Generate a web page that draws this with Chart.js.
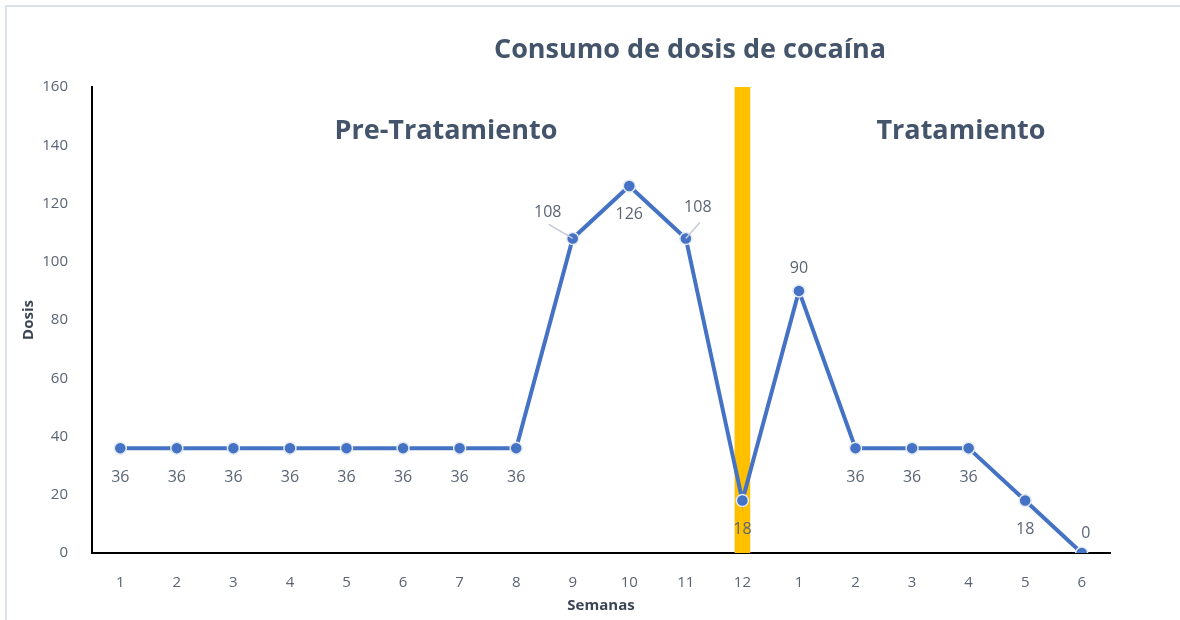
<!DOCTYPE html>
<html>
<head>
<meta charset="utf-8">
<script src="https://cdn.jsdelivr.net/npm/chart.js@4/dist/chart.umd.min.js"></script>
<style>
  html, body { margin: 0; padding: 0; background: #ffffff; }
  #wrap { position: relative; width: 1180px; height: 620px; }
</style>
</head>
<body>
<div id="wrap"><canvas id="chart" width="1180" height="620"></canvas></div>
<script>
// Weeks: 12 pre-treatment weeks followed by 6 treatment weeks
const semanas = ['1','2','3','4','5','6','7','8','9','10','11','12','1','2','3','4','5','6'];
const dosis = [36, 36, 36, 36, 36, 36, 36, 36, 108, 126, 108, 18, 90, 36, 36, 36, 18, 0];
// Vertical divider marking the start of treatment (full axis height at week 12)
const divisor = [null, null, null, null, null, null, null, null, null, null, null, 160, null, null, null, null, null, null];
const yTicks = [0, 20, 40, 60, 80, 100, 120, 140, 160];

const TEXT = '#5a6475';
const DARK = '#44546A';
const FONT = '"Open Sans", Lato, sans-serif';

// Where each value label sits relative to its point: [dx, dy, leader line]
const labelPlace = [
  [0, 29], [0, 29], [0, 29], [0, 29], [0, 29], [0, 29], [0, 29], [0, 29],
  [-25, -26, true], [0, 28], [12, -31, true], [0, 29],
  [0, -22], [0, 29], [0, 29], [0, 29], [0, 29], [4, -20]
];

const decor = {
  id: 'decor',
  beforeDraw(chart) {
    const ctx = chart.ctx;
    ctx.save();
    ctx.strokeStyle = '#dde2ea';
    ctx.lineWidth = 2;
    ctx.beginPath();
    ctx.moveTo(6, 620);
    ctx.lineTo(6, 6);
    ctx.lineTo(1180, 6);
    ctx.stroke();
    ctx.restore();
  },
  afterDatasetsDraw(chart) {
    const ctx = chart.ctx;
    const meta = chart.getDatasetMeta(1);
    ctx.save();
    // chart title and phase headings
    ctx.fillStyle = DARK;
    ctx.textAlign = 'center';
    ctx.textBaseline = 'middle';
    ctx.font = 'bold 27px ' + FONT;
    ctx.fillText('Consumo de dosis de cocaína', 690, 50);
    ctx.fillText('Pre-Tratamiento', 446, 131);
    ctx.fillText('Tratamiento', 961, 131);

    // value labels
    ctx.font = '16px ' + FONT;
    meta.data.forEach((pt, i) => {
      const [dx, dy, leader] = labelPlace[i];
      const lx = pt.x + dx, ly = pt.y + dy;
      if (leader) {
        ctx.strokeStyle = '#c3cad4';
        ctx.lineWidth = 1.5;
        ctx.beginPath();
        if (dx < 0) { ctx.moveTo(lx + 1, ly + 12); }
        else { ctx.moveTo(lx + 2, ly + 15); }
        ctx.lineTo(pt.x, pt.y);
        ctx.stroke();
      }
      ctx.fillStyle = TEXT;
      ctx.fillText(String(dosis[i]), lx, ly);
    });
    ctx.restore();
  }
};

new Chart(document.getElementById('chart'), {
  data: {
    labels: semanas,
    datasets: [
      {
        type: 'bar',
        data: divisor,
        backgroundColor: '#FFC000',
        barThickness: 15,
        order: 2
      },
      {
        type: 'line',
        data: dosis,
        borderColor: '#4472C4',
        borderWidth: 4,
        pointRadius: 6,
        pointBackgroundColor: '#4472C4',
        pointBorderColor: '#e4e9f1',
        pointBorderWidth: 1.5,
        tension: 0,
        order: 1
      }
    ]
  },
  options: {
    responsive: false,
    animation: false,
    layout: { padding: { left: 18, right: 70, top: 87, bottom: 4 } },
    plugins: {
      legend: { display: false },
      tooltip: { enabled: false },
      title: { display: false }
    },
    scales: {
      x: {
        offset: true,
        grid: { display: false },
        border: { display: true, color: '#000000', width: 2 },
        ticks: { color: TEXT, font: { size: 15, family: FONT }, padding: 13, maxRotation: 0 },
        title: { display: true, text: 'Semanas', color: '#3b4556', font: { size: 15, weight: 'bold', family: FONT }, padding: { top: 2, bottom: 1 } },
        afterFit(s) { s.height = 63; }
      },
      y: {
        min: 0,
        max: 160,
        afterBuildTicks(s) { s.ticks = yTicks.map(v => ({ value: v })); },
        grid: { display: false },
        border: { display: true, color: '#000000', width: 2 },
        ticks: { color: TEXT, font: { size: 15, family: FONT }, padding: 16 },
        title: { display: true, text: 'Dosis', color: '#3b4556', font: { size: 15, weight: 'bold', family: FONT }, padding: { top: 2, bottom: 2 } },
        afterFit(s) { s.width = 74; }
      }
    }
  },
  plugins: [decor]
});
</script>
</body>
</html>
